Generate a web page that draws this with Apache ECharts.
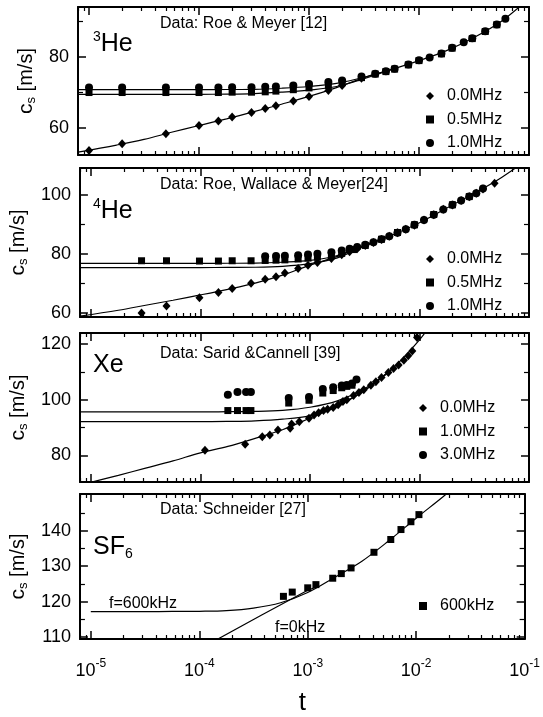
<!DOCTYPE html>
<html><head><meta charset="utf-8">
<script src="https://cdn.jsdelivr.net/npm/echarts@6/dist/echarts.min.js"></script>
<style>html,body{margin:0;padding:0;background:#fff}#c{width:543px;height:717px}</style>
</head><body><div id="c"></div>
<script>
// ---------- axis ticks ----------
const X_MIN = 7.94e-6, X_MAX = 0.1;
const xMajorTicks = [1e-5, 1e-4, 1e-3, 1e-2, 1e-1];
const xMinorTicks = [8e-6, 9e-6, 2e-5, 3e-5, 4e-5, 5e-5, 6e-5, 7e-5, 8e-5, 9e-5,
  2e-4, 3e-4, 4e-4, 5e-4, 6e-4, 7e-4, 8e-4, 9e-4, 2e-3, 3e-3, 4e-3, 5e-3, 6e-3, 7e-3, 8e-3, 9e-3,
  2e-2, 3e-2, 4e-2, 5e-2, 6e-2, 7e-2, 8e-2, 9e-2];

const he3YRange = [52.4, 94.1], he3YMajor = [60, 80], he3YMinor = [70, 90];
const he4YRange = [58.6, 109.2], he4YMajor = [60, 80, 100], he4YMinor = [70, 90];
const xeYRange = [70.4, 124], xeYMajor = [80, 100, 120], xeYMinor = [90, 110];
const sf6YRange = [109.5, 150.3], sf6YMajor = [110, 120, 130, 140], sf6YMinor = [115, 125, 135, 145];

// ---------- 3He ----------
const he3Diamond = [[1e-5,53.7],[2e-5,55.6],[5e-5,58.4],[1e-4,60.7],[1.5e-4,62.0],[2e-4,63.1],[3e-4,64.4],[4e-4,65.5],[5e-4,66.3],[7.2e-4,67.6],[1e-3,68.9],[1.5e-3,70.6],[2e-3,72.0],[3e-3,74.0]];
const he3Square = [[1e-5,70.0],[2e-5,70.0],[5e-5,70.0],[1e-4,70.0],[1.5e-4,70.0],[2e-4,70.1],[3e-4,70.1],[4e-4,70.2],[5e-4,70.4],[7.2e-4,70.8],[1e-3,71.3],[1.5e-3,72.0],[2e-3,72.8],[3e-3,74.2],[4e-3,75.2],[5e-3,75.9],[6e-3,76.6],[8e-3,77.8],[1e-2,79.0],[1.6e-2,80.9],[2e-2,82.5],[3.05e-2,85.2],[4e-2,87.2],[5.1e-2,89.1]];
const he3Circle = [[1e-5,71.4],[2e-5,71.4],[5e-5,71.4],[1e-4,71.4],[1.5e-4,71.4],[2e-4,71.5],[3e-4,71.5],[4e-4,71.6],[5e-4,71.7],[7.2e-4,72.0],[1e-3,72.4],[1.5e-3,73.0],[2e-3,73.4],[3e-3,74.5],[4e-3,75.3],[5e-3,76.0],[6e-3,76.7],[8e-3,77.9],[1e-2,79.1],[1.25e-2,79.9],[1.6e-2,81.0],[2e-2,82.6],[2.55e-2,84.2],[3.05e-2,85.3],[4e-2,87.3],[5.1e-2,89.2],[6.1e-2,90.8]];
const he3Fit0 = [[7.94e-6,53.2],[1.78e-5,55.2],[3.16e-5,56.8],[5.62e-5,58.8],[1e-4,60.7],[1.78e-4,62.6],[3.16e-4,64.6],[5.62e-4,66.7],[1e-3,68.9],[1.78e-3,71.4],[3.16e-3,74.2],[5.62e-3,76.5],[1e-2,79.0],[1.78e-2,81.8],[3.16e-2,85.5],[5.62e-2,90.1],[1e-1,96.5]];
const he3Fit05 = [[7.94e-6,69.5],[1.78e-5,69.5],[3.16e-5,69.5],[5.62e-5,69.5],[1e-4,69.5],[1.78e-4,69.55],[3.16e-4,69.7],[5.62e-4,70.1],[1e-3,70.7],[1.78e-3,71.7],[3.16e-3,73.9],[5.62e-3,76.5]];
const he3Fit10 = [[7.94e-6,70.8],[1.78e-5,70.8],[3.16e-5,70.8],[5.62e-5,70.8],[1e-4,70.8],[1.78e-4,70.85],[3.16e-4,70.9],[5.62e-4,71.2],[1e-3,71.7],[1.78e-3,72.6],[3.16e-3,74.3],[5.62e-3,76.5]];

// ---------- 4He ----------
const he4Diamond = [[2.9e-5,60.0],[4.9e-5,62.3],[9.8e-5,65.1],[1.46e-4,66.9],[1.95e-4,68.3],[2.9e-4,70.1],[3.9e-4,71.4],[4.9e-4,72.3],[5.9e-4,73.5],[7.8e-4,75.1],[9.6e-4,76.2],[1.17e-3,77.1],[1.57e-3,78.5],[1.95e-3,79.7],[2.3e-3,80.8],[2.7e-3,81.8],[3.2e-3,82.9],[3.8e-3,83.9],[4.5e-3,84.9],[5.3e-3,86.0],[6.3e-3,87.2],[7.5e-3,88.4],[9e-3,89.8],[1.1e-2,91.5],[1.35e-2,93.3],[1.65e-2,95.2],[2e-2,96.6],[2.4e-2,98.2],[2.85e-2,99.4],[3.3e-2,100.6],[3.8e-2,102.1],[4.85e-2,104.0]];
const he4Square = [[2.9e-5,77.7],[4.9e-5,77.7],[9.8e-5,77.6],[1.46e-4,77.6],[1.95e-4,77.7],[2.9e-4,77.7],[3.9e-4,77.8],[4.9e-4,77.9],[5.9e-4,78.0],[7.8e-4,78.3],[9.6e-4,78.6],[1.17e-3,78.9],[1.57e-3,79.5],[1.95e-3,80.2],[2.5e-3,81.5],[3.2e-3,82.9],[4.5e-3,85.0],[6.3e-3,87.3],[9e-3,89.9],[1.35e-2,93.4],[2e-2,96.7],[2.85e-2,99.5]];
const he4Circle = [[3.9e-4,79.2],[4.9e-4,79.3],[5.9e-4,79.4],[7.8e-4,79.6],[9.6e-4,79.8],[1.17e-3,80.1],[1.57e-3,80.6],[1.95e-3,81.2],[2.3e-3,81.8],[2.7e-3,82.4],[3.2e-3,83.1],[3.8e-3,84.0],[4.5e-3,85.0],[5.3e-3,86.0],[6.3e-3,87.2],[7.5e-3,88.4],[9e-3,89.9],[1.1e-2,91.5],[1.35e-2,93.3],[1.65e-2,95.1],[2e-2,96.7],[2.4e-2,98.2],[2.85e-2,99.5],[3.3e-2,100.6],[3.8e-2,102.2]];
const he4Fit0 = [[7.94e-6,58.9],[1.78e-5,60.9],[3.16e-5,62.6],[5.62e-5,64.3],[1e-4,66.1],[1.78e-4,68.0],[3.16e-4,70.1],[5.62e-4,72.8],[1e-3,76.2],[1.78e-3,79.2],[3.16e-3,82.8],[5.62e-3,86.4],[1e-2,90.6],[1.78e-2,95.6],[3.16e-2,100.6],[5.62e-2,106.0],[1e-1,112.5]];
const he4Fit05 = [[7.94e-6,75.4],[1.78e-5,75.4],[3.16e-5,75.4],[5.62e-5,75.4],[1e-4,75.4],[1.78e-4,75.45],[3.16e-4,75.5],[5.62e-4,75.8],[1e-3,76.7],[1.78e-3,78.7],[3.16e-3,82.7],[5.62e-3,86.4]];
const he4Fit10 = [[7.94e-6,76.8],[1.78e-5,76.8],[3.16e-5,76.8],[5.62e-5,76.8],[1e-4,76.8],[1.78e-4,76.85],[3.16e-4,76.9],[5.62e-4,77.2],[1e-3,77.8],[1.78e-3,79.5],[3.16e-3,82.9],[5.62e-3,86.4]];

// ---------- Xe ----------
const xeDiamond = [[1.1e-4,81.8],[2.56e-4,84.0],[3.67e-4,86.7],[4.3e-4,87.3],[5.1e-4,89.1],[6.6e-4,89.7],[6.8e-4,91.3],[8e-4,92.1],[9.8e-4,93.3],[1.09e-3,94.5],[1.2e-3,95.3],[1.33e-3,96.1],[1.45e-3,96.6],[1.63e-3,97.2],[1.81e-3,98.2],[2e-3,99.4],[2.17e-3,100.0],[2.5e-3,101.5],[2.8e-3,102.6],[3.1e-3,103.6],[3.6e-3,105.2],[4e-3,106.5],[4.5e-3,108.0],[5.2e-3,109.8],[5.8e-3,111.2],[6.45e-3,112.5],[7.2e-3,114.2],[7.9e-3,115.8],[8.6e-3,117.5],[9.5e-3,122.4]];
const xeSquare = [[1.78e-4,96.1],[2.18e-4,96.1],[2.61e-4,96.1],[2.89e-4,96.1],[6.4e-4,98.8],[9.8e-4,99.8],[1.31e-3,102.4],[1.63e-3,103.3],[1.95e-3,104.3],[2.17e-3,104.8],[2.42e-3,105.2]];
const xeCircle = [[1.78e-4,101.8],[2.18e-4,102.8],[2.61e-4,102.8],[2.89e-4,102.8],[6.4e-4,100.6],[9.8e-4,101.0],[1.31e-3,103.9],[1.63e-3,104.5],[1.95e-3,105.1],[2.17e-3,105.3],[2.42e-3,105.8],[2.66e-3,107.3]];
const xeFit0 = [[7.94e-6,69.3],[1.78e-5,72.8],[3.16e-5,75.4],[5.62e-5,78.0],[1e-4,80.9],[1.78e-4,83.2],[3.16e-4,86.1],[5.62e-4,89.2],[1e-3,93.4],[1.78e-3,97.8],[3.16e-3,103.3],[5.62e-3,111.0],[1e-2,121.5],[1.78e-2,135.5]];
const xeFit10 = [[7.94e-6,92.1],[1.78e-5,92.1],[3.16e-5,92.1],[5.62e-5,92.1],[1e-4,92.1],[1.78e-4,92.2],[3.16e-4,92.4],[5.62e-4,93.0],[1e-3,94.3],[1.78e-3,97.6],[3.16e-3,103.5],[5.62e-3,111.0]];
const xeFit30 = [[7.94e-6,95.6],[1.78e-5,95.6],[3.16e-5,95.6],[5.62e-5,95.6],[1e-4,95.6],[1.78e-4,95.7],[3.16e-4,95.8],[5.62e-4,96.2],[1e-3,97.3],[1.78e-3,99.6],[3.16e-3,104.0],[5.62e-3,111.1]];

// ---------- SF6 ----------
const sf6Square = [[5.97e-4,121.5],[7.2e-4,122.7],[1.0e-3,123.9],[1.19e-3,124.8],[1.7e-3,126.6],[2.04e-3,127.9],[2.51e-3,129.5],[4.08e-3,133.9],[5.83e-3,137.5],[7.24e-3,140.3],[8.94e-3,142.5],[1.06e-2,144.5]];
const sf6Fit600 = [[1e-5,117.2],[1.78e-5,117.2],[3.16e-5,117.2],[5.62e-5,117.25],[1e-4,117.3],[1.78e-4,117.5],[3.16e-4,118.2],[5.62e-4,119.7],[1e-3,122.6],[1.78e-3,126.9],[3.16e-3,131.4],[5.62e-3,137.2],[1e-2,143.5],[1.78e-2,149.6],[3.16e-2,156.0]];
const sf6Fit0 = [[1.35e-4,108.8],[3.8e-4,116.3],[1e-3,123.2],[1.2e-3,124.1]];

// ---------- texts ----------
const panelTitles = ['Data: Roe & Meyer [12]', 'Data: Roe, Wallace & Meyer[24]', 'Data: Sarid &Cannell [39]', 'Data: Schneider [27]'];
const panelSubstances = ['{sup|3}{el|He}', '{sup|4}{el|He}', '{el|Xe}', '{el|SF}{sub|6}'];
const legendNames = [['0.0MHz','0.5MHz','1.0MHz'], ['0.0MHz','0.5MHz','1.0MHz'], ['0.0MHz','1.0MHz','3.0MHz'], ['600kHz']];
const legendIcons = [['diamond','rect','circle'], ['diamond','rect','circle'], ['diamond','rect','circle'], ['rect']];
const yAxisName = '{c|c}{s|s}{n| [m/s]}';
const xAxisName = 't';

// ---------- layout ----------
const FONT = '"Liberation Sans", Arial, sans-serif';
const grids = [
  {left: 78, right: 14, top: 7, height: 148},
  {left: 78, right: 14, top: 168, height: 149},
  {left: 78, right: 14, top: 333, height: 149},
  {left: 78, right: 14, top: 494, height: 150}
];
const yRanges = [he3YRange, he4YRange, xeYRange, sf6YRange];
const yMajors = [he3YMajor, he4YMajor, xeYMajor, sf6YMajor];
const yMinors = [he3YMinor, he4YMinor, xeYMinor, sf6YMinor];

const lineBlack = {color: '#000', width: 2};
function tickStyle(len, vals, w) {
  return {show: true, inside: true, length: len, customValues: vals, lineStyle: {color: '#000', width: w}};
}

const xAxes = [], yAxes = [];
for (let g = 0; g < 4; g++) {
  const xb = {type: 'log', logBase: 10, gridIndex: g, min: X_MIN, max: X_MAX, splitLine: {show: false}, silent: true};
  const isLast = g === 3;
  xAxes.push(Object.assign({}, xb, {
    position: 'bottom',
    axisLine: {show: true, onZero: false, lineStyle: lineBlack},
    axisTick: tickStyle(8, xMajorTicks, 1.5),
    axisLabel: isLast ? {
      show: true, customValues: xMajorTicks, color: '#000', fontFamily: FONT, fontSize: 18, margin: 19,
      formatter: v => '10{sup|' + Math.round(Math.log10(v)) + '}',
      rich: {sup: {fontSize: 12, fontFamily: FONT, color: '#000', padding: [0, 0, 15, 0]}}
    } : {show: false},
    name: isLast ? xAxisName : '', nameLocation: 'middle', nameGap: 51,
    nameTextStyle: {fontSize: 26, fontFamily: FONT, color: '#000'}
  }));
  xAxes.push(Object.assign({}, xb, {position: 'bottom', axisLine: {show: false, onZero: false}, axisTick: tickStyle(4, xMinorTicks, 1.2), axisLabel: {show: false}}));
  xAxes.push(Object.assign({}, xb, {position: 'top', axisLine: {show: true, onZero: false, lineStyle: lineBlack}, axisTick: tickStyle(8, xMajorTicks, 1.5), axisLabel: {show: false}}));
  xAxes.push(Object.assign({}, xb, {position: 'top', axisLine: {show: false, onZero: false}, axisTick: tickStyle(4, xMinorTicks, 1.2), axisLabel: {show: false}}));

  const yb = {type: 'value', gridIndex: g, min: yRanges[g][0], max: yRanges[g][1], splitLine: {show: false}, silent: true, scale: true};
  yAxes.push(Object.assign({}, yb, {
    position: 'left',
    axisLine: {show: true, onZero: false, lineStyle: lineBlack},
    axisTick: tickStyle(8, yMajors[g], 1.5),
    axisLabel: {show: true, customValues: yMajors[g], color: '#000', fontFamily: FONT, fontSize: 18, margin: 9},
    name: yAxisName, nameLocation: 'middle', nameRotate: 90, nameGap: 40,
    nameTextStyle: {color: '#000', fontFamily: FONT, fontSize: 20,
      rich: {c: {fontSize: 21, fontFamily: FONT, color: '#000'},
             s: {fontSize: 13, fontFamily: FONT, color: '#000', padding: [10, 0, 0, 0]},
             n: {fontSize: 20, fontFamily: FONT, color: '#000'}}}
  }));
  yAxes.push(Object.assign({}, yb, {position: 'left', axisLine: {show: false, onZero: false}, axisTick: tickStyle(5, yMinors[g], 1.2), axisLabel: {show: false}}));
  yAxes.push(Object.assign({}, yb, {position: 'right', axisLine: {show: true, onZero: false, lineStyle: lineBlack}, axisTick: tickStyle(8, yMajors[g], 1.5), axisLabel: {show: false}}));
  yAxes.push(Object.assign({}, yb, {position: 'right', axisLine: {show: false, onZero: false}, axisTick: tickStyle(5, yMinors[g], 1.2), axisLabel: {show: false}}));
}

const series = [];
function fit(g, data, smooth, name) {
  series.push({type: 'line', name: name || ('fit' + g + '_' + series.length), xAxisIndex: g * 4, yAxisIndex: g * 4, data: data,
    showSymbol: false, symbol: 'none', smooth: smooth, clip: true, z: 2,
    lineStyle: {color: '#000', width: 1.2}, silent: true});
}
function pts(g, name, data, symbol, size) {
  series.push({type: 'scatter', name: name, xAxisIndex: g * 4, yAxisIndex: g * 4, data: data,
    symbol: symbol, symbolSize: size, itemStyle: {color: '#000', opacity: 1}, z: 3, silent: true});
}
const DIA = [8, 9], SQ = 7, CIR = 8;
// panel 1
fit(0, he3Fit0, 0.35); fit(0, he3Fit05, 0.35); fit(0, he3Fit10, 0.35);
pts(0, '0.5MHz', he3Square, 'rect', SQ);
pts(0, '1.0MHz', he3Circle, 'circle', CIR);
pts(0, '0.0MHz', he3Diamond, 'diamond', DIA);
// panel 2
fit(1, he4Fit0, 0.35); fit(1, he4Fit05, 0.35); fit(1, he4Fit10, 0.35);
pts(1, '0.5MHz', he4Square, 'rect', SQ);
pts(1, '1.0MHz', he4Circle, 'circle', CIR);
pts(1, '0.0MHz', he4Diamond, 'diamond', DIA);
// panel 3
fit(2, xeFit0, 0.35); fit(2, xeFit10, 0.35); fit(2, xeFit30, 0.35);
pts(2, '1.0MHz', xeSquare, 'rect', SQ);
pts(2, '3.0MHz', xeCircle, 'circle', CIR);
pts(2, '0.0MHz', xeDiamond, 'diamond', DIA);
// panel 4
fit(3, sf6Fit600, 0.35, 'f=600kHz'); fit(3, sf6Fit0, false, 'f=0kHz');
pts(3, '600kHz', sf6Square, 'rect', SQ);

const legendPos = [{left: 421, top: 83}, {left: 421, top: 246}, {left: 414, top: 395}, {left: 414, top: 593}];
const legends = legendNames.map((names, i) => ({
  data: names.map((n, k) => ({name: n, icon: legendIcons[i][k]})),
  orient: 'vertical', left: legendPos[i].left, top: legendPos[i].top,
  itemWidth: 8, itemHeight: 8, itemGap: 7.5, selectedMode: false,
  itemStyle: {opacity: 1},
  textStyle: {fontSize: 16, fontFamily: FONT, color: '#000', lineHeight: 16, padding: [0, 0, 0, 8]}
}));

const titleTops = [16, 177, 346, 502];
const subTops = [30, 197, 353, 535];
const graphic = [];
panelTitles.forEach((t, i) => graphic.push({type: 'text', left: 160, top: titleTops[i], silent: true,
  style: {text: t, fontSize: 16, fontFamily: FONT, fill: '#000'}}));
panelSubstances.forEach((t, i) => graphic.push({type: 'text', left: 93, top: subTops[i], silent: true,
  style: {text: t, fontFamily: FONT, fill: '#000',
    rich: {el: {fontSize: 25, fontFamily: FONT, fill: '#000', color: '#000'},
           sup: {fontSize: 14, fontFamily: FONT, fill: '#000', color: '#000', padding: [0, 0, 14, 0]},
           sub: {fontSize: 14, fontFamily: FONT, fill: '#000', color: '#000', padding: [14, 0, 0, 0]}}}}));
graphic.push({type: 'text', left: 109, top: 596, silent: true, style: {text: 'f=600kHz', fontSize: 16, fontFamily: FONT, fill: '#000'}});
graphic.push({type: 'text', left: 275, top: 620, silent: true, style: {text: 'f=0kHz', fontSize: 16, fontFamily: FONT, fill: '#000'}});

const chart = echarts.init(document.getElementById('c'), null, {renderer: 'canvas'});
chart.setOption({
  animation: false,
  backgroundColor: '#fff',
  grid: grids,
  xAxis: xAxes,
  yAxis: yAxes,
  legend: legends,
  graphic: graphic,
  series: series
});
</script>
</body></html>
